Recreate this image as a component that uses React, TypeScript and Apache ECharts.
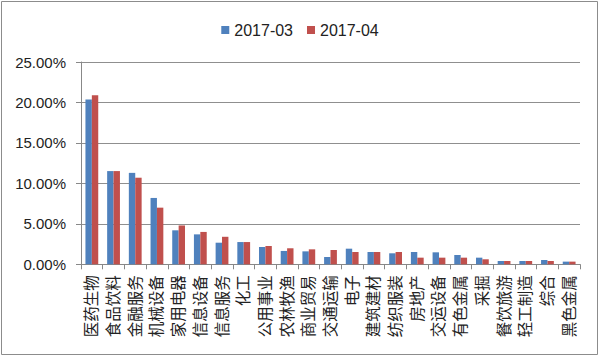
import React, { useEffect, useRef } from "react";
import * as echarts from "echarts";

const categories = [
  "医药生物", "食品饮料", "金融服务", "机械设备", "家用电器", "信息设备", "信息服务", "化工",
  "公用事业", "农林牧渔", "商业贸易", "交通运输", "电子", "建筑建材", "纺织服装", "房地产",
  "交运设备", "有色金属", "采掘", "餐饮旅游", "轻工制造", "综合", "黑色金属",
];
const seriesNames = ["2017-03", "2017-04"];
const values201703 = [
  20.37, 11.52, 11.3, 8.2, 4.2, 3.7, 2.67, 2.75,
  2.14, 1.65, 1.6, 0.9, 1.93, 1.52, 1.36, 1.52,
  1.48, 1.15, 0.82, 0.41, 0.41, 0.53, 0.33,
];
const values201704 = [
  20.9, 11.52, 10.7, 7.0, 4.8, 4.0, 3.4, 2.75,
  2.26, 1.98, 1.85, 1.77, 1.52, 1.52, 1.52, 0.82,
  0.82, 0.82, 0.62, 0.41, 0.41, 0.41, 0.33,
];
const yTicks = [0, 5, 10, 15, 20, 25];

export default function App() {
  const ref = useRef<HTMLDivElement>(null);
  useEffect(() => {
    document.body.style.margin = "0";
    const chart = echarts.init(ref.current!, null, { renderer: "svg" });
    const font = "'Liberation Sans', 'Noto Sans CJK SC', sans-serif";
    chart.setOption({
      animation: false,
      backgroundColor: "#ffffff",
      textStyle: { fontFamily: font },
      graphic: [
        {
          type: "rect",
          shape: { x: 1.5, y: 1.5, width: 596, height: 353 },
          style: { fill: "none", stroke: "#8c8c8c", lineWidth: 1 },
          silent: true,
        },
      ],
      legend: {
        data: seriesNames,
        top: 17,
        left: "center",
        itemWidth: 8,
        itemHeight: 8,
        itemGap: 14,
        icon: "rect",
        textStyle: { fontSize: 16, color: "#222", fontFamily: font },
      },
      grid: { left: 81, right: 20, top: 62, bottom: 92.7, containLabel: false },
      xAxis: {
        type: "category",
        data: categories,
        axisLine: { lineStyle: { color: "#888", width: 1 } },
        axisTick: { show: true, length: 5, lineStyle: { color: "#888" } },
        axisLabel: {
          interval: 0,
          rotate: 90,
          margin: 11,
          fontSize: 15.5,
          color: "#222",
          fontFamily: font,
        },
      },
      yAxis: {
        type: "value",
        min: yTicks[0],
        max: yTicks[yTicks.length - 1],
        interval: 5,
        axisLine: { show: true, lineStyle: { color: "#888", width: 1 } },
        axisTick: { show: true, length: 5, lineStyle: { color: "#888" } },
        splitLine: { lineStyle: { color: "#8f8f8f", width: 1 } },
        axisLabel: {
          margin: 15,
          fontSize: 15,
          color: "#222",
          fontFamily: font,
          formatter: (v: number) => v.toFixed(2) + "%",
        },
      },
      series: [
        {
          name: seriesNames[0],
          type: "bar",
          data: values201703,
          barWidth: 6.4,
          barGap: "0%",
          itemStyle: { color: "#4F81BD" },
        },
        {
          name: seriesNames[1],
          type: "bar",
          data: values201704,
          barWidth: 6.4,
          barGap: "0%",
          itemStyle: { color: "#C0504D" },
        },
      ],
    });
    return () => chart.dispose();
  }, []);
  return (
    <div
      ref={ref}
      style={{ position: "absolute", left: 0, top: 0, width: 600, height: 357 }}
    />
  );
}
